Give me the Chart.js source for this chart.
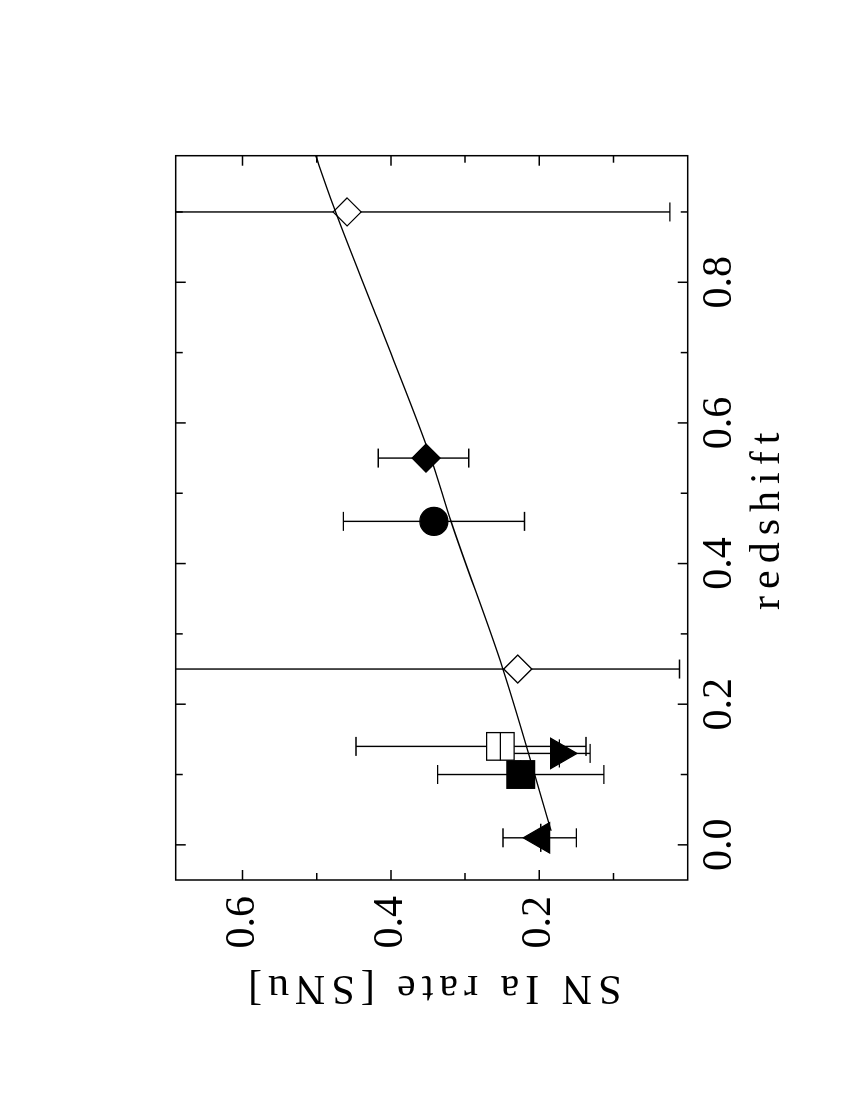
<!DOCTYPE html>
<html>
<head>
<meta charset="utf-8">
<script src="https://cdn.jsdelivr.net/npm/chart.js@4.4.0/dist/chart.umd.min.js"></script>
<style>
html, body { margin: 0; padding: 0; background: #fff; width: 850px; height: 1100px; overflow: hidden; }
#wrap { position: absolute; left: 0; top: 0; width: 1100px; height: 850px;
        transform-origin: 0 0; transform: translate(0px, 1100px) rotate(-90deg); }
</style>
</head>
<body>
<div id="wrap"><canvas id="c" width="1100" height="850"></canvas></div>
<script>
// ---------------- data ----------------
const redshift  = [0.01, 0.10, 0.13, 0.14, 0.25, 0.46, 0.55, 0.90];
const snRate    = [0.198, 0.225, 0.173, 0.2525, 0.229, 0.342, 0.3526, 0.459];
const rateLow   = [0.150, 0.113, 0.1315, 0.137, 0.011, 0.220, 0.295, 0.024];
const rateHigh  = [0.249, 0.337, 0.238, 0.447, 0.800, 0.464, 0.417, 0.900];
const zHalfBin  = [0.02, 0.02, 0.02, 0.02, 0, 0, 0, 0];

const curveZ    = [0.02, 0.25, 0.46, 0.55, 0.75, 0.90, 1.00];
const curveRate = [0.184, 0.249, 0.319, 0.346, 0.419, 0.4745, 0.508];

const zMajorTicks    = [0.0, 0.2, 0.4, 0.6, 0.8];
const zMinorTicks    = [0.1, 0.3, 0.5, 0.7, 0.9];
const rateMajorTicks = [0.2, 0.4, 0.6];
const rateMinorTicks = [0.1, 0.3, 0.5];

const xTitle = 'redshift';
const yTitle = 'SN Ia rate [SNu]';

// ---------------- styles ----------------
const markerShape  = ['triangle', 'rect', 'triangle', 'rect', 'rectRot', 'circle', 'rectRot', 'rectRot'];
const markerFilled = [true, true, true, false, false, true, true, false];
const markerTurn   = [0, 0, 180, 0, 0, 0, 0, 0];
const markerRadius = [17.5, 19.5, 17.5, 19.5, 14, 14, 14, 14];

const FONT = "'Liberation Serif', 'Times New Roman', serif";
const LW = 1.4;
const CAP = 9.5;

Chart.defaults.color = '#000';

const errorBars = {
  id: 'errorBars',
  beforeDatasetsDraw(chart) {
    const {ctx, chartArea: a, scales: {x, y}} = chart;
    ctx.save();
    ctx.beginPath(); ctx.rect(a.left, a.top, a.right - a.left, a.bottom - a.top); ctx.clip();
    ctx.strokeStyle = '#000'; ctx.lineWidth = LW;
    ctx.beginPath();
    for (let i = 0; i < redshift.length; i++) {
      const px = x.getPixelForValue(redshift[i]);
      const lo = y.getPixelForValue(rateLow[i]);
      const hi = y.getPixelForValue(rateHigh[i]);
      ctx.moveTo(px, lo); ctx.lineTo(px, hi);
      ctx.moveTo(px - CAP, lo); ctx.lineTo(px + CAP, lo);
      ctx.moveTo(px - CAP, hi); ctx.lineTo(px + CAP, hi);
    }
    ctx.stroke();
    ctx.restore();
  },
  afterDatasetsDraw(chart) {
    const {ctx, chartArea: a, scales: {x, y}} = chart;
    ctx.save();
    ctx.beginPath(); ctx.rect(a.left, a.top, a.right - a.left, a.bottom - a.top); ctx.clip();
    ctx.strokeStyle = '#000'; ctx.lineWidth = LW;
    ctx.beginPath();
    for (let i = 0; i < redshift.length; i++) {
      if (!zHalfBin[i]) continue;
      const py = y.getPixelForValue(snRate[i]);
      ctx.moveTo(x.getPixelForValue(redshift[i] - zHalfBin[i]), py);
      ctx.lineTo(x.getPixelForValue(redshift[i] + zHalfBin[i]), py);
    }
    ctx.stroke();
    ctx.restore();
  }
};

const frame = {
  id: 'frame',
  afterDraw(chart) {
    const {ctx, chartArea: a, scales: {x, y}} = chart;
    ctx.save();
    ctx.strokeStyle = '#000'; ctx.lineWidth = 1.5;
    ctx.strokeRect(a.left, a.top, a.right - a.left, a.bottom - a.top);
    ctx.beginPath();
    const tx = (v, len) => { const p = x.getPixelForValue(v);
      ctx.moveTo(p, a.bottom); ctx.lineTo(p, a.bottom - len);
      ctx.moveTo(p, a.top); ctx.lineTo(p, a.top + len); };
    const ty = (v, len) => { const p = y.getPixelForValue(v);
      ctx.moveTo(a.left, p); ctx.lineTo(a.left + len, p);
      ctx.moveTo(a.right, p); ctx.lineTo(a.right - len, p); };
    zMajorTicks.forEach(v => tx(v, 10)); zMinorTicks.forEach(v => tx(v, 7));
    rateMajorTicks.forEach(v => ty(v, 10)); rateMinorTicks.forEach(v => ty(v, 7));
    ctx.stroke();
    ctx.restore();
  }
};

const titleSpacing = {
  id: 'titleSpacing',
  beforeDraw(chart) {
    const spacing = {x: 7, y: 6};
    Object.values(chart.scales).forEach(s => {
      if (s._lsPatched) return;
      s._lsPatched = true;
      const orig = s.drawTitle;
      s.drawTitle = function () {
        const c = this.ctx; const prev = c.letterSpacing;
        c.letterSpacing = (spacing[this.id] || 0) + 'px';
        orig.apply(this, arguments);
        c.letterSpacing = prev || '0px';
      };
    });
  }
};

new Chart(document.getElementById('c'), {
  type: 'scatter',
  data: {
    datasets: [
      {
        type: 'line',
        data: curveZ.map((z, i) => ({x: z, y: curveRate[i]})),
        borderColor: '#000', borderWidth: LW, pointRadius: 0,
        cubicInterpolationMode: 'monotone', fill: false, order: 0
      },
      {
        data: redshift.map((z, i) => ({x: z, y: snRate[i]})),
        pointStyle: markerShape,
        pointRadius: markerRadius,
        rotation: markerTurn,
        backgroundColor: markerFilled.map(f => f ? '#000' : '#fff'),
        borderColor: '#000', borderWidth: 1.3, order: 1
      }
    ]
  },
  options: {
    responsive: false, animation: false, devicePixelRatio: 1,
    layout: {padding: {top: 175.7, right: 155.7, left: 0, bottom: 0}},
    plugins: {legend: {display: false}, tooltip: {enabled: false}},
    scales: {
      x: {
        type: 'linear', min: -0.05, max: 0.98,
        grid: {display: false}, border: {display: false},
        afterBuildTicks: s => { s.ticks = zMajorTicks.map(v => ({value: v})); },
        afterFit: s => { s.height = 162.3; },
        ticks: {autoSkip: false, maxRotation: 0, padding: 3,
                font: {family: FONT, size: 42, lineHeight: 1},
                callback: v => Number(v).toFixed(1)},
        title: {display: true, text: xTitle, font: {family: FONT, size: 42, lineHeight: 1},
                padding: {top: 0, bottom: 61}}
      },
      y: {
        type: 'linear', min: 0, max: 0.69,
        grid: {display: false}, border: {display: false},
        afterBuildTicks: s => { s.ticks = rateMajorTicks.map(v => ({value: v})); },
        afterFit: s => { s.width = 220; },
        ticks: {autoSkip: false, padding: 8,
                font: {family: FONT, size: 42, lineHeight: 1},
                callback: v => Number(v).toFixed(1)},
        title: {display: true, text: yTitle, font: {family: FONT, size: 42, lineHeight: 1},
                padding: {top: 92, bottom: 0}}
      }
    }
  },
  plugins: [errorBars, frame, titleSpacing]
});
</script>
</body>
</html>
